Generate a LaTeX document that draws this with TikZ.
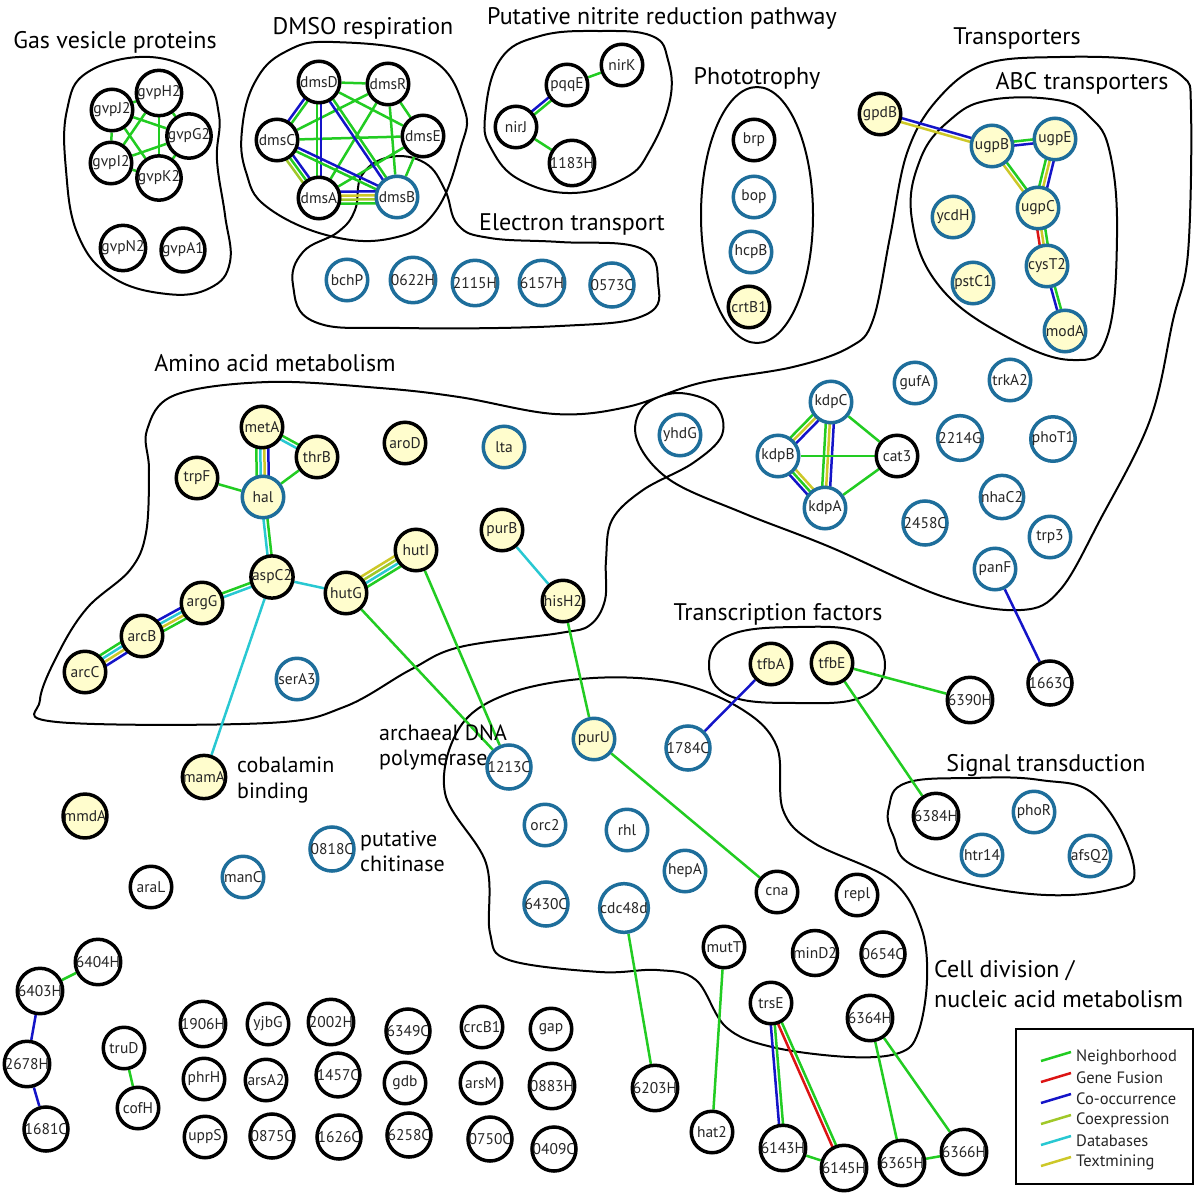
\documentclass[tikz,border=0pt]{standalone}
\usepackage{fontspec}
\setmainfont{PT Sans}
\usetikzlibrary{calc,backgrounds}
\pgfdeclarelayer{bottom}
\pgfsetlayers{bottom,background,main}
\definecolor{cN}{RGB}{34,204,34}
\definecolor{cF}{RGB}{220,20,20}
\definecolor{cO}{RGB}{20,20,200}
\definecolor{cX}{RGB}{160,200,40}
\definecolor{cD}{RGB}{40,200,210}
\definecolor{cT}{RGB}{205,200,40}
\definecolor{nblue}{RGB}{30,110,155}
\definecolor{nyel}{RGB}{255,253,205}
\newcommand\nodefont{\fontsize{15.5pt}{16pt}\selectfont}
\newcommand\ttlfont{\fontsize{24pt}{28pt}\selectfont}
\newcommand\subfont{\fontsize{22pt}{26pt}\selectfont}
\newcommand\legfont{\fontsize{16.5pt}{18pt}\selectfont}
\newcommand\N[3]{\node[#1] (#2) at (#3) {#2};}
\newcommand\edg[3]{\foreach \eoff/\ecol in {#3}{\draw[ln=\ecol] ($(#1)!\eoff pt!90:(#2)$) -- ($(#2)!\eoff pt!-90:(#1)$);}}
\newcommand\eI[3]{\draw[ln=#3] (#1) -- (#2);}
\newcommand\eII[4]{\edg{#1}{#2}{-2/#3,2/#4}}
\newcommand\eIII[5]{\edg{#1}{#2}{-4/#3,0/#4,4/#5}}
\newcommand\eIV[6]{\edg{#1}{#2}{-6/#3,-2/#4,2/#5,6/#6}}
\tikzset{
  base/.style={circle, minimum size=41.5pt, inner sep=0pt, line width=3.5pt, font=\nodefont, text=black!85},
  nb/.style={base, draw=black, fill=white},
  ny/.style={base, draw=black, fill=nyel},
  lb/.style={base, draw=nblue, fill=white},
  ly/.style={base, draw=nblue, fill=nyel},
  ln/.style={line width=2.5pt, draw=#1},
  outl/.style={draw=black, line width=2pt},
  ttl/.style={font=\ttlfont, inner sep=0pt, text=black},
  sub/.style={font=\subfont, inner sep=0pt, text=black, anchor=base west},
  leg/.style={font=\legfont, inner sep=0pt, anchor=west, text=black!85},
}
\begin{document}
\begin{tikzpicture}[x=1pt,y=-1pt]
\begin{pgfonlayer}{bottom}
\fill[white] (0,0) rectangle (1200,1200);
\end{pgfonlayer}
\useasboundingbox (0,0) rectangle (1200,1200);
% ---------- titles ----------
\node[ttl] (tGas) at (115,42) {Gas vesicle proteins};
\node[ttl] (tDMSO) at (363,28) {DMSO respiration};
\node[ttl] (tNit) at (662,18) {Putative nitrite reduction pathway};
\node[ttl] (tET) at (572,224) {Electron transport};
\node[ttl] (tPhot) at (757,78) {Phototrophy};
\node[ttl] (tTrans) at (1017,38) {Transporters};
\node[ttl] (tABC) at (1082,83) {ABC transporters};
\node[ttl] (tAmino) at (275,363) {Amino acid metabolism};
\node[ttl] (tTF) at (778,614) {Transcription factors};
\node[ttl] (tSig) at (1046,765) {Signal transduction};
\node[ttl, anchor=base west] (tCell1) at (934,977) {Cell division /};
\node[ttl, anchor=base west] (tCell2) at (934,1007) {nucleic acid metabolism};
\node[sub] (tArc1) at (379,740) {archaeal DNA};
\node[sub] (tArc2) at (379,765) {polymerase};
\node[sub] (tCob1) at (237,772) {cobalamin};
\node[sub] (tCob2) at (237,798) {binding};
\node[sub] (tChi1) at (360,846) {putative};
\node[sub] (tChi2) at (360,871) {chitinase};
% ---------- nodes ----------
% gas vesicles
\N{nb}{gvpJ2}{112,110} \N{nb}{gvpH2}{159,93} \N{nb}{gvpG2}{189,136}
\N{nb}{gvpI2}{111,163} \N{nb}{gvpK2}{159,178} \N{nb}{gvpN2}{123,248} \N{nb}{gvpA1}{183,250}
% DMSO
\N{nb}{dmsD}{319,82} \N{nb}{dmsR}{388,84} \N{nb}{dmsC}{277,140}
\N{nb}{dmsE}{423,136} \N{nb}{dmsA}{319,198} \N{lb}{dmsB}{397,197}
% electron transport
\N{lb}{bchP}{347,280} \N{lb}{0622H}{413,280} \N{lb}{2115H}{475,283}
\N{lb}{6157H}{542,283} \N{lb}{0573C}{612,285}
% nitrite
\N{nb}{pqqE}{567,85} \N{nb}{nirK}{622,65} \N{nb}{nirJ}{516,127} \N{nb}{1183H}{572,163}
% phototrophy
\N{nb}{brp}{754,140} \N{lb}{bop}{754,197} \N{lb}{hcpB}{751,252} \N{ny}{crtB1}{749,307}
% transporters
\N{ny}{gpdB}{880,114} \N{ly}{ugpB}{992,146} \N{ly}{ugpE}{1055,139} \N{ly}{ugpC}{1038,208}
\N{ly}{cysT2}{1047,266} \N{ly}{modA}{1065,331} \N{ly}{ycdH}{953,217} \N{ly}{pstC1}{973,283}
\N{lb}{yhdG}{680,435} \N{lb}{kdpC}{831,402} \N{lb}{kdpB}{778,456} \N{nb}{cat3}{897,456}
\N{lb}{kdpA}{825,508} \N{lb}{gufA}{915,383} \N{lb}{trkA2}{1010,380} \N{lb}{2214G}{960,438}
\N{lb}{phoT1}{1053,439} \N{lb}{nhaC2}{1002,497} \N{lb}{2458C}{925,523} \N{lb}{trp3}{1050,537}
\N{lb}{panF}{995,569} \N{nb}{1663C}{1050,683}
% amino acid
\N{ny}{metA}{262,427} \N{ny}{thrB}{317,457} \N{ny}{trpF}{197,478} \N{ly}{hal}{263,497}
\N{ny}{aroD}{405,443} \N{ly}{lta}{504,447} \N{ny}{purB}{502,530} \N{ny}{hutI}{416,550}
\N{ny}{aspC2}{272,577} \N{ny}{hutG}{346,593} \N{ny}{hisH2}{563,601} \N{ny}{argG}{202,603}
\N{ny}{arcB}{142,636} \N{ny}{arcC}{85,672} \N{lb}{serA3}{297,679}
% misc
\N{ny}{mamA}{204,777} \N{ny}{mmdA}{85,816} \N{lb}{0818C}{332,849} \N{nb}{araL}{151,887} \N{lb}{manC}{243,877}
% cell division
\N{lb}{1213C}{509,767} \N{ly}{purU}{594,739} \N{lb}{1784C}{688,748} \N{lb}{orc2}{545,825}
\N{lb}{rhl}{627,830} \N{lb}{hepA}{685,871} \N{lb}{6430C}{546,904} \N{lb}{cdc48d}{624,908}
\N{nb}{cna}{777,892} \N{nb}{repl}{857,895} \N{nb}{mutT}{724,947} \N{nb}{minD2}{815,953}
\N{nb}{0654C}{883,954} \N{nb}{trsE}{771,1003} \N{nb}{6364H}{870,1018} \N{nb}{6203H}{655,1088}
\N{nb}{hat2}{712,1132} \N{nb}{6143H}{783,1148} \N{nb}{6145H}{844,1168} \N{nb}{6365H}{902,1163}
\N{nb}{6366H}{964,1152}
% transcription factors, signal transduction
\N{ny}{tfbA}{771,664} \N{ny}{tfbE}{832,663} \N{nb}{6390H}{970,700}
\N{nb}{6384H}{936,816} \N{lb}{phoR}{1034,812} \N{lb}{htr14}{982,855} \N{lb}{afsQ2}{1090,856}
% bottom left
\N{nb}{6404H}{98,962} \N{nb}{6403H}{40,991} \N{nb}{2678H}{27,1064} \N{nb}{1681C}{46,1129}
\N{nb}{truD}{124,1048} \N{nb}{cofH}{138,1108}
\N{nb}{1906H}{203,1024} \N{nb}{yjbG}{268,1024} \N{nb}{2002H}{331,1022} \N{nb}{6349C}{408,1031}
\N{nb}{crcB1}{482,1027} \N{nb}{gap}{551,1029}
\N{nb}{phrH}{204,1079} \N{nb}{arsA2}{266,1080} \N{nb}{1457C}{338,1075} \N{nb}{gdb}{405,1083}
\N{nb}{arsM}{481,1083} \N{nb}{0883H}{552,1086}
\N{nb}{uppS}{205,1137} \N{nb}{0875C}{272,1136} \N{nb}{1626C}{339,1137} \N{nb}{6258C}{409,1135}
\N{nb}{0750C}{490,1139} \N{nb}{0409C}{554,1149}
% ---------- legend ----------
\draw[line width=2.2pt] (1016,1029) rectangle (1193,1184);
\draw[ln=cN] (1041,1061) -- (1071,1052); \node[leg] (lg1) at (1076,1057) {Neighborhood};
\draw[ln=cF] (1041,1082) -- (1071,1073); \node[leg] (lg2) at (1076,1078) {Gene Fusion};
\draw[ln=cO] (1041,1103) -- (1071,1094); \node[leg] (lg3) at (1076,1099) {Co-occurrence};
\draw[ln=cX] (1041,1124) -- (1071,1115); \node[leg] (lg4) at (1076,1120) {Coexpression};
\draw[ln=cD] (1041,1145) -- (1071,1136); \node[leg] (lg5) at (1076,1141) {Databases};
\draw[ln=cT] (1041,1166) -- (1071,1157); \node[leg] (lg6) at (1076,1162) {Textmining};
% ---------- background: outlines and edges ----------
\begin{pgfonlayer}{background}
\draw[outl] plot[smooth cycle, tension=0.7] coordinates {(67,110) (88,72) (150,57) (203,78) (219,115) (217,160) (225,215) (230,262) (210,288) (167,294) (112,277) (78,235) (66,170)};
\draw[outl] plot[smooth cycle, tension=0.7] coordinates {(333,42) (427,57) (464,108) (460,150) (435,212) (393,238) (330,236) (267,207) (246,172) (242,130) (255,82) (285,52)};
\draw[outl] plot[smooth cycle, tension=0.7] coordinates {(390,157) (425,163) (445,190) (458,225) (490,238) (560,242) (640,248) (658,282) (645,315) (560,326) (400,328) (315,322) (293,285) (303,252) (338,232) (355,210) (362,175)};
\draw[outl] plot[smooth cycle, tension=0.7] coordinates {(485,117) (500,60) (540,36) (600,31) (652,36) (668,60) (670,100) (650,150) (625,178) (572,193) (520,180) (492,150)};
\draw[outl] (757,215) ellipse [x radius=56, y radius=128];
\draw[outl] plot[smooth cycle, tension=0.7] coordinates {(990,100) (1057,100) (1090,117) (1110,153) (1117,237) (1107,337) (1073,360) (1007,337) (940,287) (912,220) (920,160) (950,120)};
\draw[outl] plot[smooth cycle, tension=0.6] coordinates {(147,430) (175,395) (268,382) (380,388) (459,397) (555,414) (627,407) (700,383) (793,367) (850,347) (873,320) (890,237) (907,153) (937,100) (985,64) (1060,57) (1140,60) (1183,77) (1191,110) (1188,253) (1173,320) (1150,420) (1100,520) (1060,590) (1021,610) (944,597) (830,547) (743,513) (670,480) (637,440) (643,407) (677,393) (715,405) (722,435) (693,463) (643,490) (612,520) (606,560) (605,600) (590,625) (560,633) (460,647) (410,670) (344,707) (268,723) (57,722) (40,700) (60,650) (88,607) (130,570) (146,533) (149,470)};
\draw[outl] plot[smooth cycle, tension=0.7] coordinates {(709,665) (730,635) (797,627) (862,633) (885,665) (862,697) (797,703) (730,696)};
\draw[outl] plot[smooth cycle, tension=0.7] coordinates {(889,807) (906,783) (970,778) (1040,780) (1097,797) (1134,867) (1109,890) (1021,893) (918,868) (893,835)};
\draw[outl] plot[smooth cycle, tension=0.6] coordinates {(460,727) (510,693) (593,678) (677,683) (743,710) (777,747) (783,810) (814,843) (891,880) (921,927) (927,980) (918,1033) (899,1053) (849,1057) (772,1047) (726,1027) (696,980) (657,970) (600,972) (509,960) (490,933) (486,863) (445,793)};
% gas vesicle edges
\eI{gvpJ2}{gvpH2}{cN} \eI{gvpJ2}{gvpG2}{cN} \eI{gvpJ2}{gvpI2}{cN} \eI{gvpJ2}{gvpK2}{cN}
\eI{gvpH2}{gvpG2}{cN} \eI{gvpH2}{gvpI2}{cN} \eI{gvpH2}{gvpK2}{cN}
\eI{gvpG2}{gvpI2}{cN} \eI{gvpG2}{gvpK2}{cN} \eI{gvpI2}{gvpK2}{cN}
% DMSO edges
\eI{dmsD}{dmsR}{cN} \eI{dmsD}{dmsE}{cN} \eI{dmsR}{dmsC}{cN} \eI{dmsR}{dmsA}{cN}
\eI{dmsR}{dmsE}{cN} \eI{dmsR}{dmsB}{cN} \eI{dmsC}{dmsE}{cN} \eI{dmsE}{dmsA}{cN} \eI{dmsE}{dmsB}{cN}
\eII{dmsD}{dmsC}{cO}{cN} \eII{dmsD}{dmsA}{cN}{cO} \eII{dmsD}{dmsB}{cO}{cN}
\eIII{dmsC}{dmsA}{cX}{cN}{cO} \eII{dmsC}{dmsB}{cN}{cO}
\eIV{dmsA}{dmsB}{cN}{cX}{cT}{cO}
% nitrite
\eII{nirJ}{pqqE}{cN}{cO} \eI{pqqE}{nirK}{cN} \eI{nirJ}{1183H}{cN}
% transporters
\eII{gpdB}{ugpB}{cT}{cO} \eII{ugpB}{ugpE}{cO}{cN} \eII{ugpB}{ugpC}{cT}{cN}
\eIII{ugpE}{ugpC}{cN}{cT}{cO} \eIII{ugpC}{cysT2}{cF}{cT}{cN} \eII{cysT2}{modA}{cO}{cN}
\eIII{kdpB}{kdpC}{cO}{cT}{cN} \eIII{kdpC}{kdpA}{cN}{cT}{cO} \eIII{kdpB}{kdpA}{cO}{cN}{cT}
\eI{kdpB}{cat3}{cN} \eI{kdpC}{cat3}{cN} \eI{kdpA}{cat3}{cN}
\eI{panF}{1663C}{cO}
% amino acid
\eIV{metA}{hal}{cN}{cD}{cT}{cO} \eII{metA}{thrB}{cD}{cN}
\eI{trpF}{hal}{cN} \eI{thrB}{hal}{cN}
\eII{hal}{aspC2}{cD}{cN} \eII{argG}{aspC2}{cD}{cN}
\eIV{arcB}{argG}{cN}{cT}{cD}{cO} \eIV{arcC}{arcB}{cO}{cT}{cD}{cN}
\eIV{hutG}{hutI}{cN}{cD}{cX}{cT}
\eI{aspC2}{hutG}{cD} \eI{aspC2}{mamA}{cD}
\eI{hutG}{1213C}{cN} \eI{hutI}{1213C}{cN}
\eI{purB}{hisH2}{cD} \eI{hisH2}{purU}{cN} \eI{purU}{cna}{cN}
% others
\eI{tfbA}{1784C}{cO} \eI{tfbE}{6390H}{cN} \eI{tfbE}{6384H}{cN}
\eI{cdc48d}{6203H}{cN} \eI{mutT}{hat2}{cN}
\eII{trsE}{6143H}{cO}{cN} \eII{trsE}{6145H}{cF}{cN} \eI{6143H}{6145H}{cN}
\eI{6364H}{6365H}{cN} \eI{6364H}{6366H}{cN} \eI{6365H}{6366H}{cN}
\eI{truD}{cofH}{cN} \eI{6403H}{6404H}{cN} \eI{6403H}{2678H}{cO} \eI{2678H}{1681C}{cO}
\end{pgfonlayer}
\end{tikzpicture}
\end{document}
